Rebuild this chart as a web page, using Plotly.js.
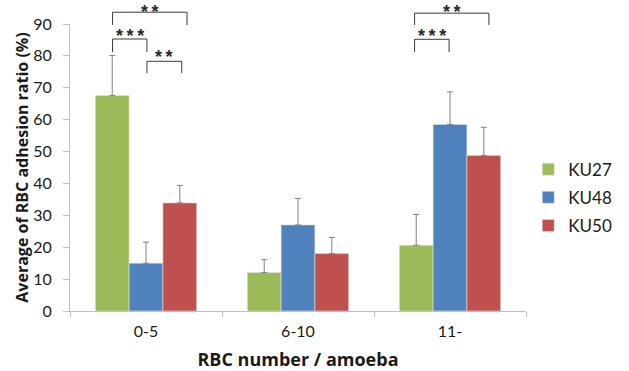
<!DOCTYPE html>
<html>
<head>
<meta charset="utf-8">
<script src="https://cdn.plot.ly/plotly-3.0.1.min.js"></script>
<style>html,body{margin:0;padding:0;background:#fff;}#chart{width:629px;height:371px;}</style>
</head>
<body>
<div id="chart"></div>
<script>
// ---- data ----
var categories = ['0-5', '6-10', '11-'];
var seriesNames = ['KU27', 'KU48', 'KU50'];
var ku27 = [67.6, 12.1, 20.6];
var ku27Err = [12.5, 4.0, 9.7];
var ku48 = [15.0, 27.0, 58.5];
var ku48Err = [6.6, 8.3, 10.2];
var ku50 = [33.9, 18.0, 48.8];
var ku50Err = [5.5, 5.1, 8.8];
var yTickVals = [0, 10, 20, 30, 40, 50, 60, 70, 80, 90];

// significance brackets: group index, left/right x-offset (category units), top, leg ends, label
var bracketGroup = [0, 0, 0, 2, 2];
var bracketX0 = [-0.22, -0.22, 0.006, -0.233, -0.233];
var bracketX1 = [0.27, 0.006, 0.235, 0.256, -0.006];
var bracketTop = [93.7, 85.3, 78.3, 93.4, 85.2];
var bracketLeg = [89.7, 81.2, 74.6, 89.7, 81.2];
var bracketLabel = ['**', '***', '**', '**', '***'];
var bracketLabelTop = [97.3, 89.7, 83.0, 97.3, 89.7];

// ---- style ----
var colors = ['#9BBB59', '#4F81BD', '#C0504D'];
var axisGrey = '#BFBFBF';
var errGrey = '#808080';
var fontFam = 'Lato, "Open Sans", sans-serif';
var titleFam = '"Open Sans", Lato, sans-serif';
var starFam = '"Liberation Sans", Arial, sans-serif';
var txt = '#1a1a1a';
var yRange = [0, 90];

var values = [ku27, ku48, ku50];
var errs = [ku27Err, ku48Err, ku50Err];
var zeros = [0, 0, 0];

var traces = seriesNames.map(function (name, i) {
  return {
    type: 'bar',
    name: name,
    legendgroup: name,
    x: categories,
    y: values[i],
    marker: { color: colors[i], line: { color: '#E0E0E0', width: 0.6 } },
    error_y: {
      type: 'data', symmetric: false, array: errs[i], arrayminus: zeros,
      color: errGrey, thickness: 1, width: 3
    }
  };
});

function toPaper(v) { return (v - yRange[0]) / (yRange[1] - yRange[0]); }

var shapes = [];
var annotations = [];
for (var k = 0; k < bracketGroup.length; k++) {
  var g = bracketGroup[k];
  var x0 = g + bracketX0[k];
  var x1 = g + bracketX1[k];
  var yt = toPaper(bracketTop[k]);
  var yl = toPaper(bracketLeg[k]);
  shapes.push({
    type: 'path', xref: 'x', yref: 'paper',
    path: 'M' + x0 + ',' + yl + ' L' + x0 + ',' + yt + ' L' + x1 + ',' + yt + ' L' + x1 + ',' + yl,
    line: { color: '#3a3a3a', width: 1 }
  });
  annotations.push({
    xref: 'x', yref: 'paper', x: (x0 + x1) / 2, y: toPaper(bracketLabelTop[k]),
    text: '<b>' + bracketLabel[k].split('').join('\u2009') + '</b>', showarrow: false,
    xanchor: 'center', yanchor: 'top', borderpad: 0,
    font: { family: starFam, size: 18, color: '#2a2a2a' }
  });
}

var layout = {
  width: 629, height: 371,
  margin: { l: 70, r: 91, t: 24, b: 60 },
  paper_bgcolor: '#fff', plot_bgcolor: '#fff',
  barmode: 'group', bargap: 0.333, bargroupgap: 0,
  font: { family: fontFam, size: 16, color: txt },
  showlegend: true,
  legend: {
    x: 1.005, y: 0.395, xanchor: 'left', yanchor: 'middle',
    font: { family: fontFam, size: 17, color: txt },
    itemwidth: 30, tracegroupgap: 3, bgcolor: 'rgba(0,0,0,0)'
  },
  xaxis: {
    type: 'category', range: [-0.5, 2.5],
    showline: true, linecolor: axisGrey, linewidth: 1,
    ticks: 'outside', tickson: 'boundaries', ticklen: 5, tickcolor: axisGrey,
    ticklabelstandoff: 6,
    showgrid: false, zeroline: false,
    tickfont: { family: fontFam, size: 16, color: txt },
    title: { text: '<b>RBC number / amoeba</b>', font: { family: titleFam, size: 18, color: txt }, standoff: 18 }
  },
  yaxis: {
    range: yRange, tickvals: yTickVals,
    showline: true, linecolor: axisGrey, linewidth: 1,
    ticks: 'outside', ticklen: 6, tickcolor: axisGrey,
    ticklabelstandoff: 8,
    showgrid: false, zeroline: false,
    tickfont: { family: fontFam, size: 16, color: txt },
    title: { text: '<b>Average of RBC adhesion ratio (%)</b>', font: { family: titleFam, size: 16, color: txt }, standoff: 0 }
  },
  shapes: shapes,
  annotations: annotations
};

Plotly.newPlot('chart', traces, layout, { displayModeBar: false, staticPlot: true });
</script>
</body>
</html>
